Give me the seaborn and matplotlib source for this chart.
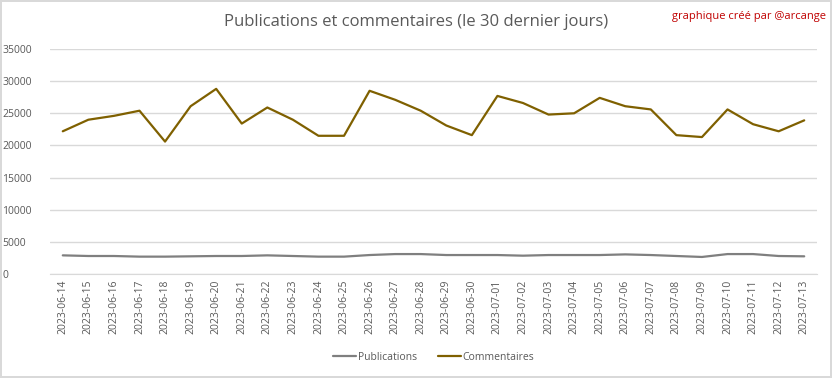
import pandas as pd
import matplotlib.pyplot as plt
import seaborn as sns

# ------------------------------
# Data
# ------------------------------
dates = pd.date_range("2023-06-14", "2023-07-13").strftime("%Y-%m-%d").tolist()

publications = [2900, 2800, 2800, 2700, 2700, 2750, 2800, 2800, 2900, 2800,
                2700, 2700, 2950, 3100, 3100, 2950, 2950, 2950, 2850, 2950,
                2950, 2950, 3050, 2950, 2800, 2650, 3100, 3100, 2800, 2750]

commentaires = [22200, 24000, 24600, 25400, 20600, 26100, 28800, 23400, 25900, 24000,
                21500, 21500, 28500, 27100, 25400, 23100, 21600, 27700, 26600, 24800,
                25000, 27400, 26100, 25600, 21600, 21300, 25600, 23300, 22200, 23900]

df = pd.DataFrame({
    "date": dates * 2,
    "valeur": publications + commentaires,
    "serie": ["Publications"] * len(dates) + ["Commentaires"] * len(dates),
})

# ------------------------------
# Style
# ------------------------------
sns.set_style("white")
plt.rcParams["font.family"] = ["Open Sans", "DejaVu Sans"]
text_grey = "#595959"

fig = plt.figure(figsize=(8.32, 3.78), dpi=100)
fig.patch.set_edgecolor("#d9d9d9")
fig.patch.set_linewidth(1.5)
ax = fig.add_axes([50 / 832, 1 - 274 / 378, 767 / 832, 225 / 378])

sns.lineplot(data=df, x="date", y="valeur", hue="serie",
             palette={"Publications": "#7f7f7f", "Commentaires": "#7f6000"},
             linewidth=1.6, ax=ax)

# ------------------------------
# Axes
# ------------------------------
ax.set_xlim(-0.5, len(dates) - 0.5)
ax.set_ylim(0, 35000)
ax.set_yticks(range(0, 35001, 5000))
ax.yaxis.grid(True, color="#d9d9d9", linewidth=1)
ax.set_axisbelow(True)
for side in ["top", "right", "left"]:
    ax.spines[side].set_visible(False)
ax.spines["bottom"].set_color("#d9d9d9")
ax.set_xlabel("")
ax.set_ylabel("")
ax.tick_params(axis="x", rotation=90, labelsize=7.5, colors=text_grey, length=0, pad=4)
ax.tick_params(axis="y", labelsize=7.5, colors=text_grey, length=0, pad=4)
for lbl in ax.get_yticklabels():
    lbl.set_horizontalalignment("left")
    lbl.set_x(-42 / 767)

# ------------------------------
# Titles and legend
# ------------------------------
fig.text(0.5, 1 - 22 / 378, "Publications et commentaires (le 30 dernier jours)",
         ha="center", va="center", fontsize=12, color=text_grey)
fig.text(1 - 6 / 832, 1 - 16 / 378, "graphique créé par @arcange",
         ha="right", va="center", fontsize=8, color="#c00000")

handles, labels = ax.get_legend_handles_labels()
ax.legend(handles, labels, loc="center", bbox_to_anchor=(0.5, -(357 - 274) / 225),
          ncol=2, frameon=False, fontsize=7.5, labelcolor=text_grey,
          handlelength=2.2, columnspacing=2, handletextpad=0.2)

plt.savefig("out.png", dpi=100)
plt.close()
